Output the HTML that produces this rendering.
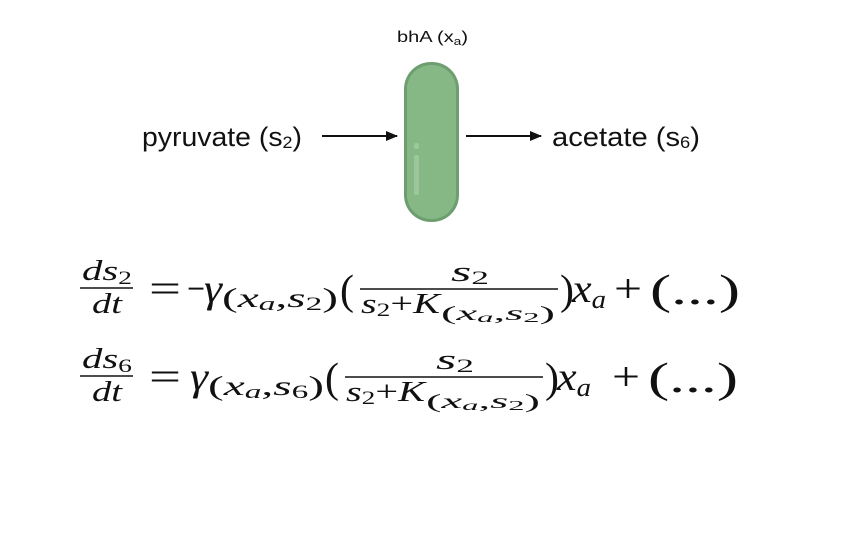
<!DOCTYPE html>
<html><head><meta charset="utf-8"><style>
html,body{margin:0;padding:0;background:#fff;}
svg{display:block;}
.s{font-family:"Liberation Sans",sans-serif;fill:#111;}
.m{font-family:"Liberation Serif",serif;fill:#111;}
.i{font-style:italic;}
</style></head><body>
<svg width="862" height="557" viewBox="0 0 862 557">
<defs>
<marker id="ah" markerWidth="12" markerHeight="10" refX="11" refY="5" orient="auto" markerUnits="userSpaceOnUse">
<path d="M0,0 L12,5 L0,10 z" fill="#111"/>
</marker>
</defs>
<text class="s" x="397" y="42" font-size="16" textLength="71" lengthAdjust="spacingAndGlyphs">bhA (x<tspan font-size="11" dy="3">a</tspan><tspan dy="-3">)</tspan></text>
<g>
<rect x="404" y="62" width="55" height="160" rx="27" fill="#6e9e70"/>
<rect x="407" y="65" width="49" height="154" rx="24" fill="#86b886"/>
<rect x="414" y="143" width="5" height="6" rx="2" fill="#9cc79b"/>
<rect x="414" y="155" width="5" height="40" rx="2" fill="#9cc79b"/>
</g>
<text class="s" x="142" y="146" font-size="27" textLength="160" lengthAdjust="spacingAndGlyphs">pyruvate (s<tspan font-size="17" dy="2">2</tspan><tspan dy="-2">)</tspan></text>
<line x1="322" y1="136" x2="397" y2="136" stroke="#111" stroke-width="2" marker-end="url(#ah)"/>
<line x1="466" y1="136" x2="541" y2="136" stroke="#111" stroke-width="2" marker-end="url(#ah)"/>
<text class="s" x="552" y="146" font-size="27" textLength="148" lengthAdjust="spacingAndGlyphs">acetate (s<tspan font-size="17" dy="2">6</tspan><tspan dy="-2">)</tspan></text>

<g>
<text class="m i" x="82" y="280" font-size="28" textLength="50" lengthAdjust="spacingAndGlyphs">ds<tspan font-size="19" dy="4" style="font-style:normal">2</tspan></text>
<line x1="80" y1="288" x2="133" y2="288" stroke="#111" stroke-width="1.6"/>
<text class="m i" x="92" y="313" font-size="28" textLength="30" lengthAdjust="spacingAndGlyphs">dt</text>
<text class="m" x="149" y="302" font-size="40" textLength="32" lengthAdjust="spacingAndGlyphs">=</text>
<text class="m" x="187" y="302" font-size="40" textLength="18" lengthAdjust="spacingAndGlyphs">−</text>
<text class="m i" x="204" y="302" font-size="40" textLength="18" lengthAdjust="spacingAndGlyphs">γ</text>
<text class="m" x="222" y="307" font-size="27" textLength="116" lengthAdjust="spacingAndGlyphs">(<tspan class="i">x</tspan><tspan class="i" font-size="19" dy="3">a</tspan><tspan dy="-3">,</tspan><tspan class="i">s</tspan><tspan font-size="19" dy="3">2</tspan><tspan dy="-3">)</tspan></text>
<text class="m" x="340" y="304" font-size="42">(</text>
<text class="m i" x="451" y="281" font-size="28" textLength="38" lengthAdjust="spacingAndGlyphs">s<tspan font-size="19" dy="3" style="font-style:normal">2</tspan></text>
<line x1="360" y1="289" x2="558" y2="289" stroke="#111" stroke-width="1.6"/>
<text class="m" x="361" y="313" font-size="28" textLength="79" lengthAdjust="spacingAndGlyphs"><tspan class="i">s</tspan><tspan font-size="19" dy="3">2</tspan><tspan dy="-3">+</tspan><tspan class="i">K</tspan></text>
<text class="m" x="441" y="320" font-size="20" textLength="114" lengthAdjust="spacingAndGlyphs">(<tspan class="i">x</tspan><tspan class="i" font-size="14" dy="2">a</tspan><tspan dy="-2">,</tspan><tspan class="i">s</tspan><tspan font-size="14" dy="2">2</tspan><tspan dy="-2">)</tspan></text>
<text class="m" x="560" y="304" font-size="42">)</text>
<text class="m i" x="572" y="302" font-size="40" textLength="34" lengthAdjust="spacingAndGlyphs">x<tspan font-size="26" dy="6">a</tspan></text>
<text class="m" x="614" y="302" font-size="40" textLength="28" lengthAdjust="spacingAndGlyphs">+</text>
<text class="m" x="650" y="304" font-size="42" textLength="90" lengthAdjust="spacingAndGlyphs">(...)</text>
</g>

<g>
<text class="m i" x="82" y="368" font-size="28" textLength="50" lengthAdjust="spacingAndGlyphs">ds<tspan font-size="19" dy="4" style="font-style:normal">6</tspan></text>
<line x1="80" y1="376" x2="133" y2="376" stroke="#111" stroke-width="1.6"/>
<text class="m i" x="92" y="401" font-size="28" textLength="30" lengthAdjust="spacingAndGlyphs">dt</text>
<text class="m" x="149" y="390" font-size="40" textLength="32" lengthAdjust="spacingAndGlyphs">=</text>
<text class="m i" x="190" y="390" font-size="40" textLength="18" lengthAdjust="spacingAndGlyphs">γ</text>
<text class="m" x="208" y="395" font-size="27" textLength="116" lengthAdjust="spacingAndGlyphs">(<tspan class="i">x</tspan><tspan class="i" font-size="19" dy="3">a</tspan><tspan dy="-3">,</tspan><tspan class="i">s</tspan><tspan font-size="19" dy="3">6</tspan><tspan dy="-3">)</tspan></text>
<text class="m" x="325" y="392" font-size="42">(</text>
<text class="m i" x="436" y="369" font-size="28" textLength="38" lengthAdjust="spacingAndGlyphs">s<tspan font-size="19" dy="3" style="font-style:normal">2</tspan></text>
<line x1="345" y1="377" x2="543" y2="377" stroke="#111" stroke-width="1.6"/>
<text class="m" x="346" y="401" font-size="28" textLength="79" lengthAdjust="spacingAndGlyphs"><tspan class="i">s</tspan><tspan font-size="19" dy="3">2</tspan><tspan dy="-3">+</tspan><tspan class="i">K</tspan></text>
<text class="m" x="426" y="408" font-size="20" textLength="114" lengthAdjust="spacingAndGlyphs">(<tspan class="i">x</tspan><tspan class="i" font-size="14" dy="2">a</tspan><tspan dy="-2">,</tspan><tspan class="i">s</tspan><tspan font-size="14" dy="2">2</tspan><tspan dy="-2">)</tspan></text>
<text class="m" x="545" y="392" font-size="42">)</text>
<text class="m i" x="557" y="390" font-size="40" textLength="34" lengthAdjust="spacingAndGlyphs">x<tspan font-size="26" dy="6">a</tspan></text>
<text class="m" x="612" y="390" font-size="40" textLength="28" lengthAdjust="spacingAndGlyphs">+</text>
<text class="m" x="648" y="392" font-size="42" textLength="90" lengthAdjust="spacingAndGlyphs">(...)</text>
</g>
</svg>
</body></html>
